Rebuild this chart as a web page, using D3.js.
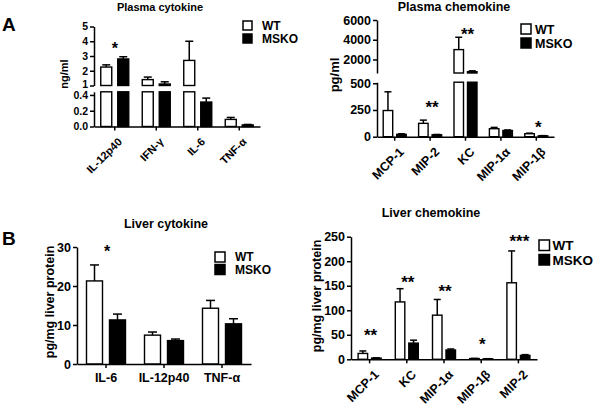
<!DOCTYPE html>
<html><head><meta charset="utf-8">
<script src="https://cdn.jsdelivr.net/npm/d3@7"></script>
<style>
html,body{margin:0;padding:0;background:#fff;}
svg text{font-family:"Liberation Sans",Arial,Helvetica,sans-serif;font-weight:bold;fill:#000;}
</style></head><body>
<svg id="chart" width="600" height="406"></svg>
<script>
// ---------------- data ----------------
const seriesNames = ["WT", "MSKO"];

const plasmaCytoCategories = ["IL-12p40", "IFN-γ", "IL-6", "TNF-α"];
const plasmaCytoWT = [2.25, 1.4, 2.7, 0.09];
const plasmaCytoWTErr = [0.15, 0.17, 1.3, 0.025];
const plasmaCytoKO = [2.8, 1.1, 0.31, 0.02];
const plasmaCytoKOErr = [0.15, 0.15, 0.05, 0.006];
const plasmaCytoSig = ["*", "", "", ""];
const plasmaCytoSigAt = [3.7, null, null, null];
const plasmaCytoTicksLow = [0, 0.2, 0.4];
const plasmaCytoTicksHigh = [1, 2, 3, 4, 5];

const plasmaChemoCategories = ["MCP-1", "MIP-2", "KC", "MIP-1α", "MIP-1β"];
const plasmaChemoWT = [245, 125, 3000, 75, 28];
const plasmaChemoWTErr = [175, 30, 1250, 12, 5];
const plasmaChemoKO = [22, 18, 760, 58, 8];
const plasmaChemoKOErr = [5, 3, 90, 5, 2];
const plasmaChemoSig = ["", "**", "**", "", "*"];
const plasmaChemoSigAt = [null, 300, 4800, null, 110];
const plasmaChemoTicksLow = [0, 250, 500];
const plasmaChemoTicksHigh = [2000, 4000, 6000];

const liverCytoCategories = ["IL-6", "IL-12p40", "TNF-α"];
const liverCytoWT = [21.3, 7.4, 14.3];
const liverCytoWTErr = [4.1, 0.8, 2.0];
const liverCytoKO = [11.3, 6.0, 10.3];
const liverCytoKOErr = [1.5, 0.4, 1.3];
const liverCytoSig = ["*", "", ""];
const liverCytoSigAt = [29.5, null, null];
const liverCytoTicks = [0, 10, 20, 30];

const liverChemoCategories = ["MCP-1", "KC", "MIP-1α", "MIP-1β", "MIP-2"];
const liverChemoWT = [12, 117, 90, 1.5, 156];
const liverChemoWTErr = [5, 27, 32, 0.3, 65];
const liverChemoKO = [2.5, 33, 19, 1, 8];
const liverChemoKOErr = [0.5, 6, 2, 0.2, 1.5];
const liverChemoSig = ["**", "**", "**", "*", "***"];
const liverChemoSigAt = [54, 162, 144, 35, 245];
const liverChemoTicks = [0, 50, 100, 150, 200, 250];

// ---------------- drawing ----------------
const svg = d3.select("#chart");
svg.append("rect").attr("width", 600).attr("height", 406).attr("fill", "#fff");

function drawPanel(o) {
  const g = svg.append("g");
  const x = d3.scaleBand().domain(o.cats).range([o.x0, o.x1]);
  const low = d3.scaleLinear().domain(o.lowDomain).range(o.lowRange);
  const high = o.highDomain ? d3.scaleLinear().domain(o.highDomain).range(o.highRange) : null;
  const lowMax = o.lowDomain[1];

  function pieces(v) {
    if (!high || v <= lowMax) return [[low, 0, v]];
    return [[low, 0, lowMax], [high, o.highDomain[0], v]];
  }
  function scaleFor(v) { return (!high || v <= lowMax) ? low : high; }

  const series = [
    {vals: o.wt, errs: o.wtErr, fill: "#fff", off: -o.gap / 2 - o.bw},
    {vals: o.ko, errs: o.koErr, fill: "#000", off: o.gap / 2}
  ];
  series.forEach(s => {
    o.cats.forEach((c, i) => {
      const cx = x(c) + x.bandwidth() / 2;
      const v = s.vals[i];
      pieces(v).forEach(([sc, a, b]) => {
        g.append("rect")
          .attr("x", cx + s.off).attr("width", o.bw)
          .attr("y", sc(b)).attr("height", Math.max(0.5, sc(a) - sc(b)))
          .attr("fill", s.fill).attr("stroke", "#000").attr("stroke-width", 1.4);
      });
      const sc = scaleFor(v);
      const t = v + s.errs[i];
      const ex = cx + s.off + o.bw / 2;
      g.append("line").attr("x1", ex).attr("x2", ex).attr("y1", sc(v)).attr("y2", sc(t))
        .attr("stroke", "#000").attr("stroke-width", 1.5);
      g.append("line").attr("x1", ex - o.cap / 2).attr("x2", ex + o.cap / 2)
        .attr("y1", sc(t)).attr("y2", sc(t)).attr("stroke", "#000").attr("stroke-width", 1.5);
    });
  });

  // y axes
  const segs = [[low, o.lowTicks, o.lowFmt, false]];
  if (high) segs.push([high, o.highTicks, o.highFmt, true]);
  segs.forEach(([sc, ticks, fmt, isHigh]) => {
    const ax = g.append("g").attr("transform", `translate(${o.x0},0)`)
      .call(d3.axisLeft(sc).tickValues(ticks).tickFormat(d3.format(fmt)).tickSize(4).tickSizeOuter(0).tickPadding(2));
    ax.select(".domain").attr("stroke", "#000").attr("stroke-width", 1.5);
    ax.selectAll(".tick line").attr("stroke", "#000").attr("stroke-width", 1.5);
    ax.selectAll("text").style("font-size", o.tickFont + "px");
    if (isHigh && o.nudgeBreakLabel) {
      ax.selectAll(".tick").filter(d => d === o.highDomain[0]).select("text").attr("dy", "0.2em");
    }
  });

  // x axis
  const xa = g.append("g").attr("transform", `translate(0,${o.lowRange[0]})`)
    .call(d3.axisBottom(x).tickSize(4).tickSizeOuter(0));
  xa.select(".domain").attr("stroke", "#000").attr("stroke-width", 1.5);
  xa.selectAll(".tick line").attr("stroke", "#000").attr("stroke-width", 1.5);
  const xt = xa.selectAll("text").style("font-size", o.xFont + "px");
  if (o.rotate) {
    xt.attr("y", 0).attr("dy", 0).attr("text-anchor", "end")
      .attr("transform", `translate(${o.rotDx},${o.rotDy}) rotate(-45)`);
  } else {
    xt.attr("y", o.xLabelY).attr("dy", 0);
  }

  // significance marks
  o.cats.forEach((c, i) => {
    if (!o.sig[i]) return;
    const v = o.sigAt[i];
    const cx = x(c) + x.bandwidth() / 2;
    g.append("text").attr("x", cx + (o.sigDx || 0)).attr("y", scaleFor(v)(v) + 8)
      .attr("text-anchor", "middle").style("font-size", o.sigFont + "px").text(o.sig[i]);
  });

  // title
  g.append("text").attr("x", o.title[1]).attr("y", o.title[2]).attr("text-anchor", "middle")
    .style("font-size", o.title[3] + "px").text(o.title[0]);
  // y label
  g.append("text").attr("transform", `translate(${o.ylab[1]},${o.ylab[2]}) rotate(-90)`)
    .attr("text-anchor", "middle").style("font-size", o.ylab[3] + "px").text(o.ylab[0]);
  // legend
  const L = o.legend;
  seriesNames.forEach((n, k) => {
    g.append("rect").attr("x", L.x).attr("y", L.y + k * L.dy).attr("width", L.s).attr("height", L.s)
      .attr("fill", k === 0 ? "#fff" : "#000").attr("stroke", "#000").attr("stroke-width", 1.5);
    g.append("text").attr("x", L.x + L.s + L.tx).attr("y", L.y + k * L.dy + L.s / 2)
      .attr("dy", "0.36em").style("font-size", L.f + "px").text(n);
  });
}

drawPanel({
  cats: plasmaCytoCategories, wt: plasmaCytoWT, wtErr: plasmaCytoWTErr, ko: plasmaCytoKO, koErr: plasmaCytoKOErr,
  sig: plasmaCytoSig, sigAt: plasmaCytoSigAt, sigFont: 16,
  x0: 94, x1: 260, lowDomain: [0, 0.44], lowRange: [126.5, 91.8], highDomain: [1, 5], highRange: [85.5, 26.5],
  lowTicks: plasmaCytoTicksLow, lowFmt: ".1f", highTicks: plasmaCytoTicksHigh, highFmt: "d", nudgeBreakLabel: true,
  bw: 11, gap: 6, cap: 8, tickFont: 10.5, xFont: 11, rotate: true, rotDx: 8, rotDy: 16,
  title: ["Plasma cytokine", 160, 10.5, 11], ylab: ["ng/ml", 68, 74, 11],
  legend: {x: 243, y: 21, dy: 13, s: 9, tx: 10, f: 12}
});

drawPanel({
  cats: plasmaChemoCategories, wt: plasmaChemoWT, wtErr: plasmaChemoWTErr, ko: plasmaChemoKO, koErr: plasmaChemoKOErr,
  sig: plasmaChemoSig, sigAt: plasmaChemoSigAt, sigFont: 17, sigDx: 2,
  x0: 377, x1: 554, lowDomain: [0, 510], lowRange: [136.7, 82.2], highDomain: [630, 6000], highRange: [73, 20],
  lowTicks: plasmaChemoTicksLow, lowFmt: "d", highTicks: plasmaChemoTicksHigh, highFmt: "d",
  bw: 9.5, gap: 4, cap: 7, tickFont: 12.5, xFont: 12.5, rotate: true, rotDx: 10, rotDy: 16,
  title: ["Plasma chemokine", 454, 11, 12.5], ylab: ["pg/ml", 339, 75, 13],
  legend: {x: 521, y: 24, dy: 14, s: 10, tx: 4, f: 12.5}
});

drawPanel({
  cats: liverCytoCategories, wt: liverCytoWT, wtErr: liverCytoWTErr, ko: liverCytoKO, koErr: liverCytoKOErr,
  sig: liverCytoSig, sigAt: liverCytoSigAt, sigFont: 16, sigDx: 1,
  x0: 77, x1: 251, lowDomain: [0, 30], lowRange: [364, 247],
  lowTicks: liverCytoTicks, lowFmt: "d",
  bw: 16, gap: 7, cap: 9, tickFont: 12.5, xFont: 12.5, rotate: false, xLabelY: 18,
  title: ["Liver cytokine", 166, 228, 12.5], ylab: ["pg/mg liver protein", 54, 302, 12.5],
  legend: {x: 215, y: 252, dy: 12.5, s: 10, tx: 10, f: 12}
});

drawPanel({
  cats: liverChemoCategories, wt: liverChemoWT, wtErr: liverChemoWTErr, ko: liverChemoKO, koErr: liverChemoKOErr,
  sig: liverChemoSig, sigAt: liverChemoSigAt, sigFont: 17, sigDx: 1,
  x0: 351, x1: 537, lowDomain: [0, 250], lowRange: [359.3, 236.7],
  lowTicks: liverChemoTicks, lowFmt: "d",
  bw: 9.5, gap: 4, cap: 7, tickFont: 12.5, xFont: 12.5, rotate: true, rotDx: 10, rotDy: 16,
  title: ["Liver chemokine", 431, 217, 12.5], ylab: ["pg/mg liver protein", 321, 296, 12.5],
  legend: {x: 539, y: 240, dy: 14.5, s: 10.5, tx: 3, f: 13.5}
});

// panel letters
svg.append("text").attr("x", 2).attr("y", 31).style("font-size", "19px").text("A");
svg.append("text").attr("x", 2).attr("y", 245).style("font-size", "19px").text("B");
</script>
</body></html>
